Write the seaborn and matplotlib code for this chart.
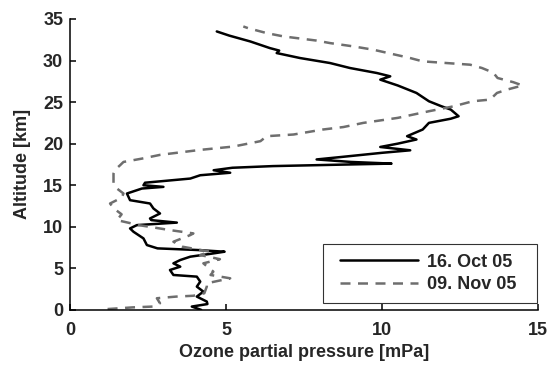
import matplotlib
matplotlib.use("Agg")
import matplotlib.pyplot as plt
from matplotlib.lines import Line2D
from matplotlib.legend_handler import HandlerLine2D
import seaborn as sns
import pandas as pd

# Ozone sounding profiles: altitude [km] and ozone partial pressure [mPa]
oct_alt = [0.0, 0.4, 0.7, 1.0, 1.6, 2.2, 2.8, 3.4, 4.0, 4.2, 4.8, 5.2, 5.6, 6.0,
           6.4, 6.8, 7.0, 7.2, 7.4, 7.8, 8.6, 9.4, 9.8, 10.2, 10.5, 10.8, 11.0,
           11.6, 12.2, 12.8, 13.2, 14.0, 14.6, 14.8, 15.0, 15.3, 15.8, 16.2,
           16.5, 16.8, 17.1, 17.3, 17.5, 17.6, 17.8, 18.1, 18.4, 18.9, 19.2,
           19.6, 20.0, 20.5, 20.9, 21.7, 22.5, 23.0, 23.3, 24.1, 24.5, 25.1,
           26.1, 27.0, 27.3, 27.7, 28.1, 28.5, 29.1, 29.7, 30.3, 30.9, 31.2,
           31.5, 32.3, 33.0, 33.5]
oct_o3 = [4.2, 3.9, 4.4, 4.38, 4.06, 4.27, 4.06, 4.17, 4.06, 3.31, 3.2, 3.53,
          3.31, 3.53, 3.85, 4.6, 4.95, 4.1, 2.8, 2.46, 2.35, 2.03, 1.92, 2.14,
          3.42, 2.6, 2.56, 2.88, 2.67, 2.56, 1.92, 1.82, 2.3, 2.99, 2.35, 2.4,
          3.85, 4.17, 5.13, 4.6, 5.2, 6.5, 9.0, 10.3, 9.0, 7.9, 8.7, 10.0, 10.9,
          9.94, 10.5, 11.1, 10.8, 11.3, 11.5, 12.2, 12.45, 12.2, 11.9, 11.5,
          11.1, 10.5, 10.26, 9.94, 10.26, 9.83, 8.97, 8.33, 7.37, 6.62, 6.7,
          6.4, 5.77, 5.1, 4.7]

nov_alt = [0.1, 0.3, 0.4, 0.8, 1.4, 1.6, 1.7, 2.0, 2.8, 3.2, 3.8, 4.2, 4.6,
           5.6, 6.1, 6.6, 7.0, 7.6, 8.2, 9.0, 9.2, 9.6, 10.2, 10.8, 11.5, 12.2,
           12.8, 13.5, 14.0, 14.6, 15.2, 16.4, 16.9, 17.4, 17.8, 18.2, 18.65,
           19.25, 19.65, 20.3, 20.9, 21.1, 21.7, 22.0, 22.5, 23.1, 23.9, 24.5,
           25.1, 25.3, 26.1, 26.5, 27.0, 27.4, 27.9, 28.5, 28.7, 29.1, 29.5,
           29.9, 30.3, 31.3, 31.7, 32.1, 32.4, 32.9, 33.3, 33.9, 34.1]
nov_o3 = [1.2, 2.0, 2.66, 2.88, 2.78, 3.4, 3.95, 4.3, 4.38, 4.38, 5.13, 4.5,
          4.59, 4.27, 4.8, 4.17, 4.49, 3.6, 3.31, 3.85, 3.95, 3.2, 2.2, 1.5,
          1.65, 1.4, 1.28, 1.65, 1.71, 1.5, 1.39, 1.39, 1.45, 1.6, 1.71, 2.3,
          2.88, 4.17, 5.23, 6.1, 6.3, 7.16, 8.1, 8.76, 9.4, 10.5, 11.5, 12.3,
          12.9, 13.46, 13.68, 14.0, 14.5, 14.2, 13.7, 13.57, 13.46, 13.2,
          12.82, 11.3, 10.9, 9.72, 9.08, 8.33, 7.9, 6.84, 6.3, 5.7, 5.55]

labels = ["16. Oct 05", "09. Nov 05"]
x_ticks = [0, 5, 10, 15]
y_ticks = [0, 5, 10, 15, 20, 25, 30, 35]

sns.set_theme(style="ticks")
plt.rcParams["font.family"] = ["Liberation Sans", "DejaVu Sans"]
plt.rcParams["font.weight"] = "bold"
plt.rcParams["xtick.direction"] = "in"
plt.rcParams["ytick.direction"] = "in"

df_oct = pd.DataFrame({"o3": oct_o3, "alt": oct_alt})
df_nov = pd.DataFrame({"o3": nov_o3, "alt": nov_alt})

fig = plt.figure(figsize=(5.48, 3.65), dpi=100)
ax = fig.add_axes([0.128, 0.151, 0.854, 0.797])

sns.lineplot(data=df_oct, x="o3", y="alt", sort=False, estimator=None,
             color="black", lw=1.8, ax=ax, label=labels[0])
sns.lineplot(data=df_nov, x="o3", y="alt", sort=False, estimator=None,
             color="#6e6e6e", lw=1.8, dashes=False, ax=ax, label=labels[1])
ax.lines[1].set_dashes([4, 3])

ax.set_xlim(0, 15)
ax.set_ylim(0, 35)
ax.set_xticks(x_ticks)
ax.set_yticks(y_ticks)
ax.tick_params(labelsize=13, width=1.1, length=4, color="black")
ax.tick_params(axis="x", pad=9)
ax.tick_params(axis="y", pad=5)
for lab in ax.get_xticklabels() + ax.get_yticklabels():
    lab.set_fontweight("bold")
ax.set_xlabel("Ozone partial pressure [mPa]", fontsize=13, fontweight="bold",
              labelpad=3)
ax.set_ylabel("Altitude [km]", fontsize=13, fontweight="bold", labelpad=9)
sns.despine(ax=ax)
for side in ("left", "bottom"):
    ax.spines[side].set_linewidth(1.1)
    ax.spines[side].set_color("black")

# Boxed legend in the lower right, stretched to a fixed width
leg = ax.legend(loc="lower left", bbox_to_anchor=(0.5406, 0.024, 0.457, 0.2),
                mode="expand", borderaxespad=0, fancybox=False, frameon=True,
                handlelength=4.72, handletextpad=0.5, labelspacing=0.3,
                borderpad=0.55,
                handler_map={Line2D: HandlerLine2D(xpad=0.39)},
                prop={"size": 13, "weight": "bold"})
leg.get_frame().set_edgecolor("black")
leg.get_frame().set_linewidth(0.8)

fig.savefig("out.png", dpi=100)
